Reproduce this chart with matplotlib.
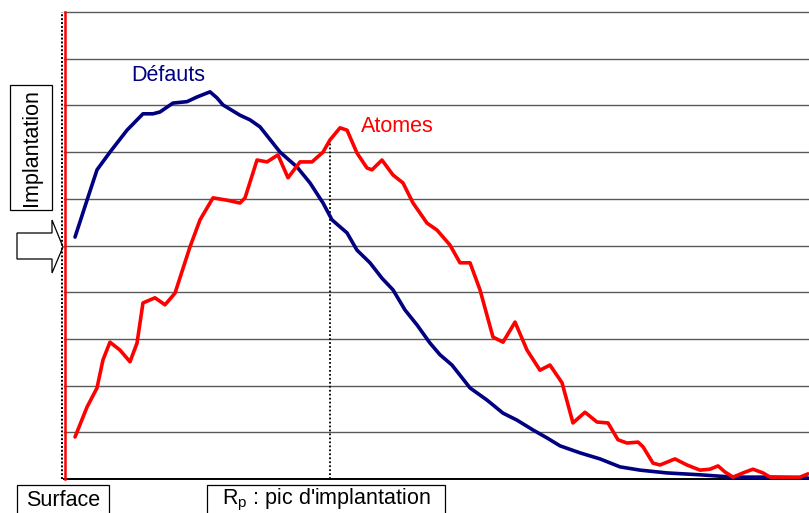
import matplotlib.pyplot as plt
from matplotlib.patches import Polygon, Rectangle
import numpy as np

plt.rcParams['font.family'] = ['Liberation Sans', 'DejaVu Sans']

# depth (arbitrary units, 0-100) and concentration (0-10)
defauts_x = [1.48, 3.09, 4.43, 6.17, 8.46, 10.6, 11.95, 12.89, 14.63, 16.51, 17.85, 19.6,
             20.54, 21.34, 23.62, 24.97, 26.31, 29.0, 31.28, 33.02, 34.77, 35.97, 37.99,
             39.33, 41.07, 42.68, 44.16, 45.77, 47.38, 49.13, 50.47, 52.08, 54.5, 56.78,
             58.93, 60.81, 62.95, 64.83, 66.58, 69.26, 71.95, 74.63, 77.32, 80.94, 85.37,
             89.8, 94.36, 99.87]
defauts_y = [5.18, 5.97, 6.62, 7.0, 7.47, 7.82, 7.82, 7.86, 8.05, 8.08, 8.18, 8.29,
             8.16, 8.01, 7.79, 7.69, 7.54, 7.0, 6.68, 6.34, 5.91, 5.55, 5.27,
             4.9, 4.63, 4.3, 4.05, 3.62, 3.3, 2.91, 2.66, 2.44, 1.95, 1.69,
             1.41, 1.26, 1.05, 0.88, 0.71, 0.56, 0.43, 0.26, 0.19, 0.13, 0.09,
             0.04, 0.04, 0.02]

atomes_x = [1.48, 3.09, 4.43, 5.23, 6.17, 7.52, 8.86, 9.8, 10.6, 12.21, 13.56, 14.9,
            16.91, 18.26, 20.0, 21.88, 23.62, 24.3, 25.91, 27.25, 28.72, 30.07, 31.68,
            33.29, 34.77, 35.7, 37.05, 37.99, 39.33, 40.67, 41.34, 42.68, 44.16, 45.5,
            46.85, 48.72, 50.07, 51.81, 53.15, 54.5, 55.84, 57.58, 58.93, 60.54, 62.15,
            63.89, 65.23, 66.85, 68.32, 69.93, 71.54, 73.02, 74.36, 75.57, 77.05, 77.72,
            79.06, 80.0, 82.01, 83.62, 85.37, 86.71, 87.79, 88.72, 89.8, 91.14, 92.48,
            93.83, 94.77, 97.05, 98.79, 99.87]
atomes_y = [0.9, 1.54, 1.95, 2.55, 2.93, 2.76, 2.51, 2.91, 3.77, 3.88, 3.73, 3.98,
            4.97, 5.55, 6.02, 5.97, 5.91, 6.02, 6.83, 6.79, 6.94, 6.45, 6.79,
            6.79, 7.0, 7.26, 7.52, 7.47, 6.98, 6.66, 6.62, 6.83, 6.51, 6.34,
            5.91, 5.48, 5.33, 5.01, 4.63, 4.63, 4.05, 3.04, 2.93, 3.36, 2.76,
            2.33, 2.44, 2.06, 1.2, 1.43, 1.22, 1.2, 0.84, 0.77, 0.79, 0.69,
            0.34, 0.3, 0.43, 0.3, 0.19, 0.21, 0.28, 0.15, 0.04, 0.13, 0.21,
            0.13, 0.04, 0.04, 0.04, 0.11]

rp_x = 35.7
rp_top = 7.2
grid_levels = np.arange(1, 11)

W, H = 809, 513
fig = plt.figure(figsize=(W / 100, H / 100), dpi=100)
ax = fig.add_axes([64 / W, (H - 479) / H, (809 - 64) / W, (479 - 12) / H])
ax.set_xlim(0, 100)
ax.set_ylim(0, 10)
ax.axis('off')

for g in grid_levels:
    ax.axhline(g, color='#5a5a5a', lw=1.0, clip_on=False, zorder=1)
ax.axhline(0, color='black', lw=1.4, clip_on=False, zorder=1)

# surface line: black dots next to a red line
ax.plot([-0.25, -0.25], [0, 10], color='black', lw=1.4, ls=(0, (1, 1)), clip_on=False, zorder=3)
ax.plot([0.12, 0.12], [0, 10], color='red', lw=1.8, clip_on=False, zorder=3)

ax.plot([rp_x, rp_x], [0, rp_top], color='black', lw=1.3, ls=(0, (1, 1.2)), zorder=2)

ax.plot(defauts_x, defauts_y, color='#000080', lw=2.6, zorder=4,
        solid_joinstyle='round', solid_capstyle='round')
ax.plot(atomes_x, atomes_y, color='#ff0000', lw=2.6, zorder=4,
        solid_joinstyle='round', solid_capstyle='round')

ax.text(13.96, 8.63, 'Défauts', color='#000080', fontsize=15.5, ha='center', va='center')
ax.text(44.7, 7.54, 'Atomes', color='#ff0000', fontsize=15.5, ha='center', va='center')


def fx(px):
    return px / W


def fy(py):
    return 1 - py / H


# boxed labels
fig.patches.append(Rectangle((fx(10), fy(210)), (52 - 10) / W, (210 - 85) / H,
                             transform=fig.transFigure, fill=False, ec='black', lw=0.9))
fig.text(fx(32), fy(148), 'Implantation', rotation=90, fontsize=15.5, ha='center', va='center')

fig.patches.append(Rectangle((fx(17), fy(520)), (109 - 17) / W, (520 - 485) / H,
                             transform=fig.transFigure, fill=False, ec='black', lw=0.9))
fig.text(fx(63), fy(500), 'Surface', fontsize=15.5, ha='center', va='center')

fig.patches.append(Rectangle((fx(207), fy(520)), (445 - 207) / W, (520 - 485) / H,
                             transform=fig.transFigure, fill=False, ec='black', lw=0.9))
fig.text(fx(326), fy(500), "R$_\\mathregular{p}$ : pic d'implantation", fontsize=15.5,
         ha='center', va='center')

# open arrow pointing at the surface
arrow_px = [(17, 233), (52, 233), (52, 220), (63, 247), (52, 273), (52, 259), (17, 259)]
fig.patches.append(Polygon([(fx(a), fy(b)) for a, b in arrow_px], closed=True,
                           transform=fig.transFigure, fill=False, ec='black', lw=0.9))

fig.savefig('out.png', dpi=100)
